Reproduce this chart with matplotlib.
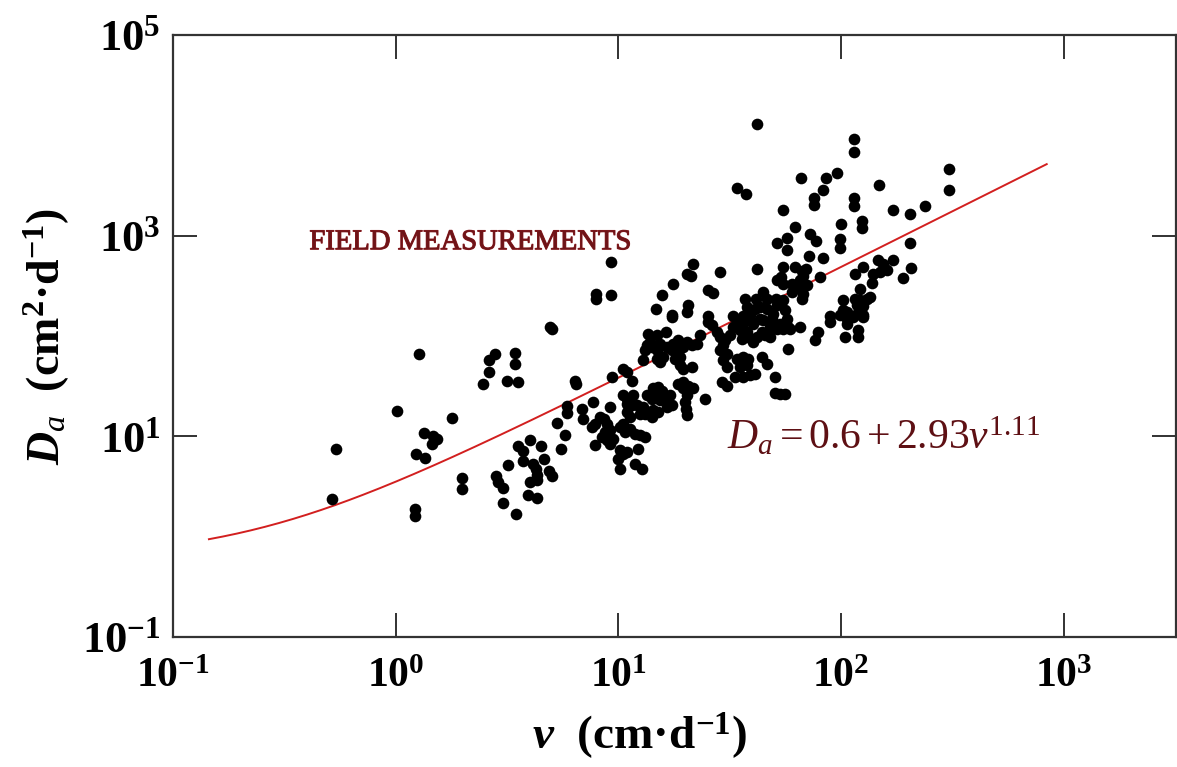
import numpy as np
import matplotlib
matplotlib.use("Agg")
import matplotlib.pyplot as plt
import matplotlib.patheffects as pe
from matplotlib.ticker import FixedLocator, FixedFormatter, NullLocator

plt.rcParams['font.family'] = ['Liberation Serif', 'DejaVu Serif']
plt.rcParams['mathtext.fontset'] = 'custom'
plt.rcParams['mathtext.rm'] = 'Liberation Serif'
plt.rcParams['mathtext.it'] = 'Liberation Serif:italic'
plt.rcParams['mathtext.bf'] = 'Liberation Serif:bold'
if 'mathtext.bfit' in plt.rcParams:
    plt.rcParams['mathtext.bfit'] = 'Liberation Serif:italic:bold'

# Field measurements: pore-water velocity v (cm/d) and dispersion D_a (cm^2/d)
v_field = [
    0.52, 0.54, 1.01, 1.22, 1.22, 1.27, 1.23, 1.35, 1.34, 1.47, 1.53, 1.45, 1.79,
    1.98, 1.98, 2.46, 2.62, 2.62, 2.79, 3.43, 3.43, 3.15, 3.53, 2.81, 2.87, 3.03,
    3.03, 3.19, 3.46, 3.53, 3.72, 4.0, 3.72, 4.13, 4.26, 4.30, 4.0, 4.30, 3.92,
    4.30, 4.48, 4.62, 4.87, 5.02, 5.02, 4.92, 5.87, 5.87, 5.29, 5.75, 5.52,
    6.37, 6.45, 6.85, 6.92, 7.68, 7.60, 7.84, 7.84, 8.26, 8.61, 8.87, 9.16, 8.70,
    9.16, 9.35, 8.43, 8.87, 9.16, 9.45, 10.2, 10.5, 10.9, 9.95, 10.2, 12.2, 11.9,
    12.8, 10.5, 11.0, 11.5, 10.5, 11.0, 11.6, 10.9, 11.5, 10.9, 11.3, 10.5, 10.2,
    10.7, 11.3, 11.9, 12.5, 13.2, 12.1, 12.9, 12.5, 13.2, 13.4, 14.3, 15.1, 15.7,
    14.9, 14.2, 15.4, 16.5, 17.0, 16.5, 17.4, 14.3, 15.1, 14.2, 18.5, 19.5, 20.5,
    21.6, 19.5, 20.3, 19.9, 20.1, 20.3, 24.5, 18.9, 19.5, 21.4, 18.0, 18.9, 12.9,
    13.2, 13.4, 14.2, 14.9, 13.6, 14.9, 16.3, 13.9, 15.4, 16.5, 17.6, 17.4, 18.5,
    19.5, 18.5, 20.3, 21.4, 22.5, 23.2, 14.9, 15.4, 15.8, 17.4, 25.2, 26.3, 27.7,
    28.6, 30.1, 31.7, 29.5, 28.6, 30.7, 29.5, 30.7, 32.7, 35.2, 37.8, 40.2, 38.2,
    35.9, 34.1, 36.3, 38.2, 35.2, 37.8, 33.4, 36.3, 39.0, 41.1, 29.2, 30.7, 40.2,
    41.9, 37.8, 43.3, 50.5, 50.5, 53.2, 56.0, 44.2, 46.5, 57.8,
    7.93, 7.93, 9.25, 9.25, 21.6, 20.3, 21.2, 28.6, 17.6, 25.2, 26.6, 15.7, 14.7,
    20.5, 20.3, 17.4, 25.2, 32.7, 36.3, 41.9, 37.1, 37.8, 34.1, 37.4, 41.9,
    114, 114, 306, 306, 66.1, 85.6, 95.9, 83.0, 75.6, 75.6, 114, 114, 148, 54.8,
    171, 204, 239, 62.1, 100, 124, 124, 72.6, 77.2, 51.5, 57.2, 57.2, 99, 99, 204,
    71.8, 83.0, 147, 154, 171, 161, 206, 190, 62.1, 66.8, 69.6, 67.5, 65.5, 80.5,
    51.5, 53.7, 54.8, 60.3, 60.3, 70.3, 116, 139, 138, 122, 116, 122, 131, 135,
    118, 126, 102, 106, 99, 44.6, 46.5, 51.0, 51.5, 54.8, 66.8, 67.5, 43.3, 46.5,
    56.0, 49.5, 89.3, 118, 126, 150, 126, 41.5, 41.1, 49.0, 44.6, 39.0, 34.1, 35.9,
    48.0, 51.5, 54.8, 57.8, 44.2, 45.4, 48.0, 65.5, 53.2, 57.2, 59.0, 78.8, 76.4,
    89.3, 106, 107, 104, 119, 119, 113, 126, 102, 54.8, 63.4,
]
D_field = [
    2.4, 7.5, 18, 1.9, 1.6, 66, 6.7, 6.1, 10.8, 10.1, 9.4, 8.4, 15.2,
    3.85, 3.0, 33, 44, 57, 66, 68, 52, 36, 35, 4.0, 3.5, 3.05,
    2.17, 5.2, 1.68, 8.0, 7.1, 9.2, 5.7, 5.3, 4.7, 4.1, 3.5, 3.7, 2.6,
    2.43, 8.0, 5.9, 4.5, 4.0, 117, 123, 20, 17.1, 13.6, 10.3, 7.5,
    35.5, 33, 18.7, 14.9, 22, 12.4, 13.3, 8.2, 15.6, 14.9, 13.3, 11.6, 11.0,
    19.6, 39, 9.8, 9.2, 8.4, 9.4, 7.3, 6.7, 7.0, 5.9, 4.7, 7.5, 5.3,
    4.7, 47, 44, 36, 26, 23.5, 26, 21, 20.5, 17.5, 15.6, 13.3, 12.4,
    11.0, 11.8, 10.5, 10.3, 9.8, 20.5, 19.6, 16.7, 16.7, 26, 30, 31, 28,
    25, 23.5, 23, 23, 26, 19.6, 20.5, 18.3, 17.5, 15.6, 33, 35, 32,
    30, 30, 26, 22, 18.7, 16.3, 23.5, 51, 47, 49, 59, 62, 57,
    72, 81, 77, 72, 104, 102, 109, 87, 83, 77, 83, 72, 72,
    77, 91, 87, 81, 83, 102, 59, 55, 62, 154, 137, 128, 109,
    97, 91, 102, 81, 72, 66, 57, 49, 123, 115, 109, 131, 97,
    93, 59, 62, 59, 49, 51, 39, 39, 41, 42, 35, 32, 87,
    97, 147, 147, 39, 27, 26.4, 26.4, 62, 52, 74,
    261, 233, 255, 545, 520, 414, 395, 433, 329, 286, 267, 255, 185,
    203, 173, 161, 158, 158, 158, 463, 233, 194, 2970, 2590, 12900,
    9140, 6790, 4590, 2840, 3740, 3740, 4190, 2840, 2370, 2010, 2370, 1970, 3180, 1800,
    1800, 1640, 1970, 1220, 1300, 1390, 1190, 1040, 881, 841, 944, 717, 923, 750, 841,
    625, 597, 570, 520, 570, 453, 474, 378, 486, 443, 463, 395, 361, 386,
    361, 386, 329, 329, 273, 321, 414, 414, 337, 293, 233, 228, 233, 244,
    203, 199, 181, 173, 161, 273, 233, 233, 203, 228, 233, 261, 194, 185,
    181, 165, 160, 165, 161, 433, 486, 233, 185, 147, 144, 161, 137, 128,
    123, 117, 117, 123, 109, 102, 97, 123, 131, 147, 117, 109, 91,
    137, 147, 131, 97, 115, 97, 154, 154, 228, 486, 307,
]

# Regression D_a = a0 + a1 * v^b
a0, a1, b = 0.6, 2.93, 1.11
v_fit_range = (0.145, 840)

x_ticks = [0.1, 1, 10, 100, 1000]
x_tick_labels = [r'$\mathbf{10^{-1}}$', r'$\mathbf{10^{0}}$', r'$\mathbf{10^{1}}$',
                 r'$\mathbf{10^{2}}$', r'$\mathbf{10^{3}}$']
y_ticks = [0.1, 10, 1000, 1e5]
y_tick_labels = [r'$\mathbf{10^{-1}}$', r'$\mathbf{10^{1}}$', r'$\mathbf{10^{3}}$',
                 r'$\mathbf{10^{5}}$']

fig = plt.figure(figsize=(11.77, 7.67), dpi=100)
ax = fig.add_axes([173 / 1177, 1 - 637 / 767, 1003 / 1177, 602 / 767])
ax.set_xscale('log')
ax.set_yscale('log')
ax.set_xlim(0.1, 10 ** 3.505)
ax.set_ylim(0.1, 1e5)

v_fit = np.logspace(np.log10(v_fit_range[0]), np.log10(v_fit_range[1]), 300)
ax.plot(v_fit, a0 + a1 * v_fit ** b, color='#d21f1f', lw=1.4, zorder=2)

ax.plot(v_field, D_field, 'o', color='black', markersize=8.4,
        markeredgewidth=0, zorder=3)

ax.xaxis.set_major_locator(FixedLocator(x_ticks))
ax.xaxis.set_major_formatter(FixedFormatter(x_tick_labels))
ax.yaxis.set_major_locator(FixedLocator(y_ticks))
ax.yaxis.set_major_formatter(FixedFormatter(y_tick_labels))
ax.xaxis.set_minor_locator(NullLocator())
ax.yaxis.set_minor_locator(NullLocator())

ax.tick_params(which='major', direction='in', length=17, width=1.3,
               top=True, right=True, color='#222222')
ax.tick_params(axis='x', pad=15, labelsize=30)
ax.tick_params(axis='y', pad=9, labelsize=32)
for s in ax.spines.values():
    s.set_linewidth(1.6)
    s.set_color('#333333')

ax.set_xlabel(r'$\mathbfit{v}$  (cm·d$^{\mathbf{-1}}$)', fontsize=34,
              fontweight='bold')
ax.xaxis.set_label_coords(0.465, -0.122)
ax.set_ylabel(r'$\mathbfit{D}_{a}$  (cm$^{\mathbf{2}}$·d$^{\mathbf{-1}}$)',
              fontsize=33, fontweight='bold')
ax.yaxis.set_label_coords(-0.101, 0.5)

ax.text(0.41, 860, 'FIELD MEASUREMENTS', fontsize=20.6, color='#6e1418',
        ha='left', va='center',
        path_effects=[pe.withStroke(linewidth=0.8, foreground='#8a1c20')])
ax.text(30.7, 9.8, r'$D_{a} = 0.6 + 2.93v^{1.11}$', fontsize=30,
        color='#5e1014', ha='left', va='center')

fig.savefig('out.png', dpi=100)
